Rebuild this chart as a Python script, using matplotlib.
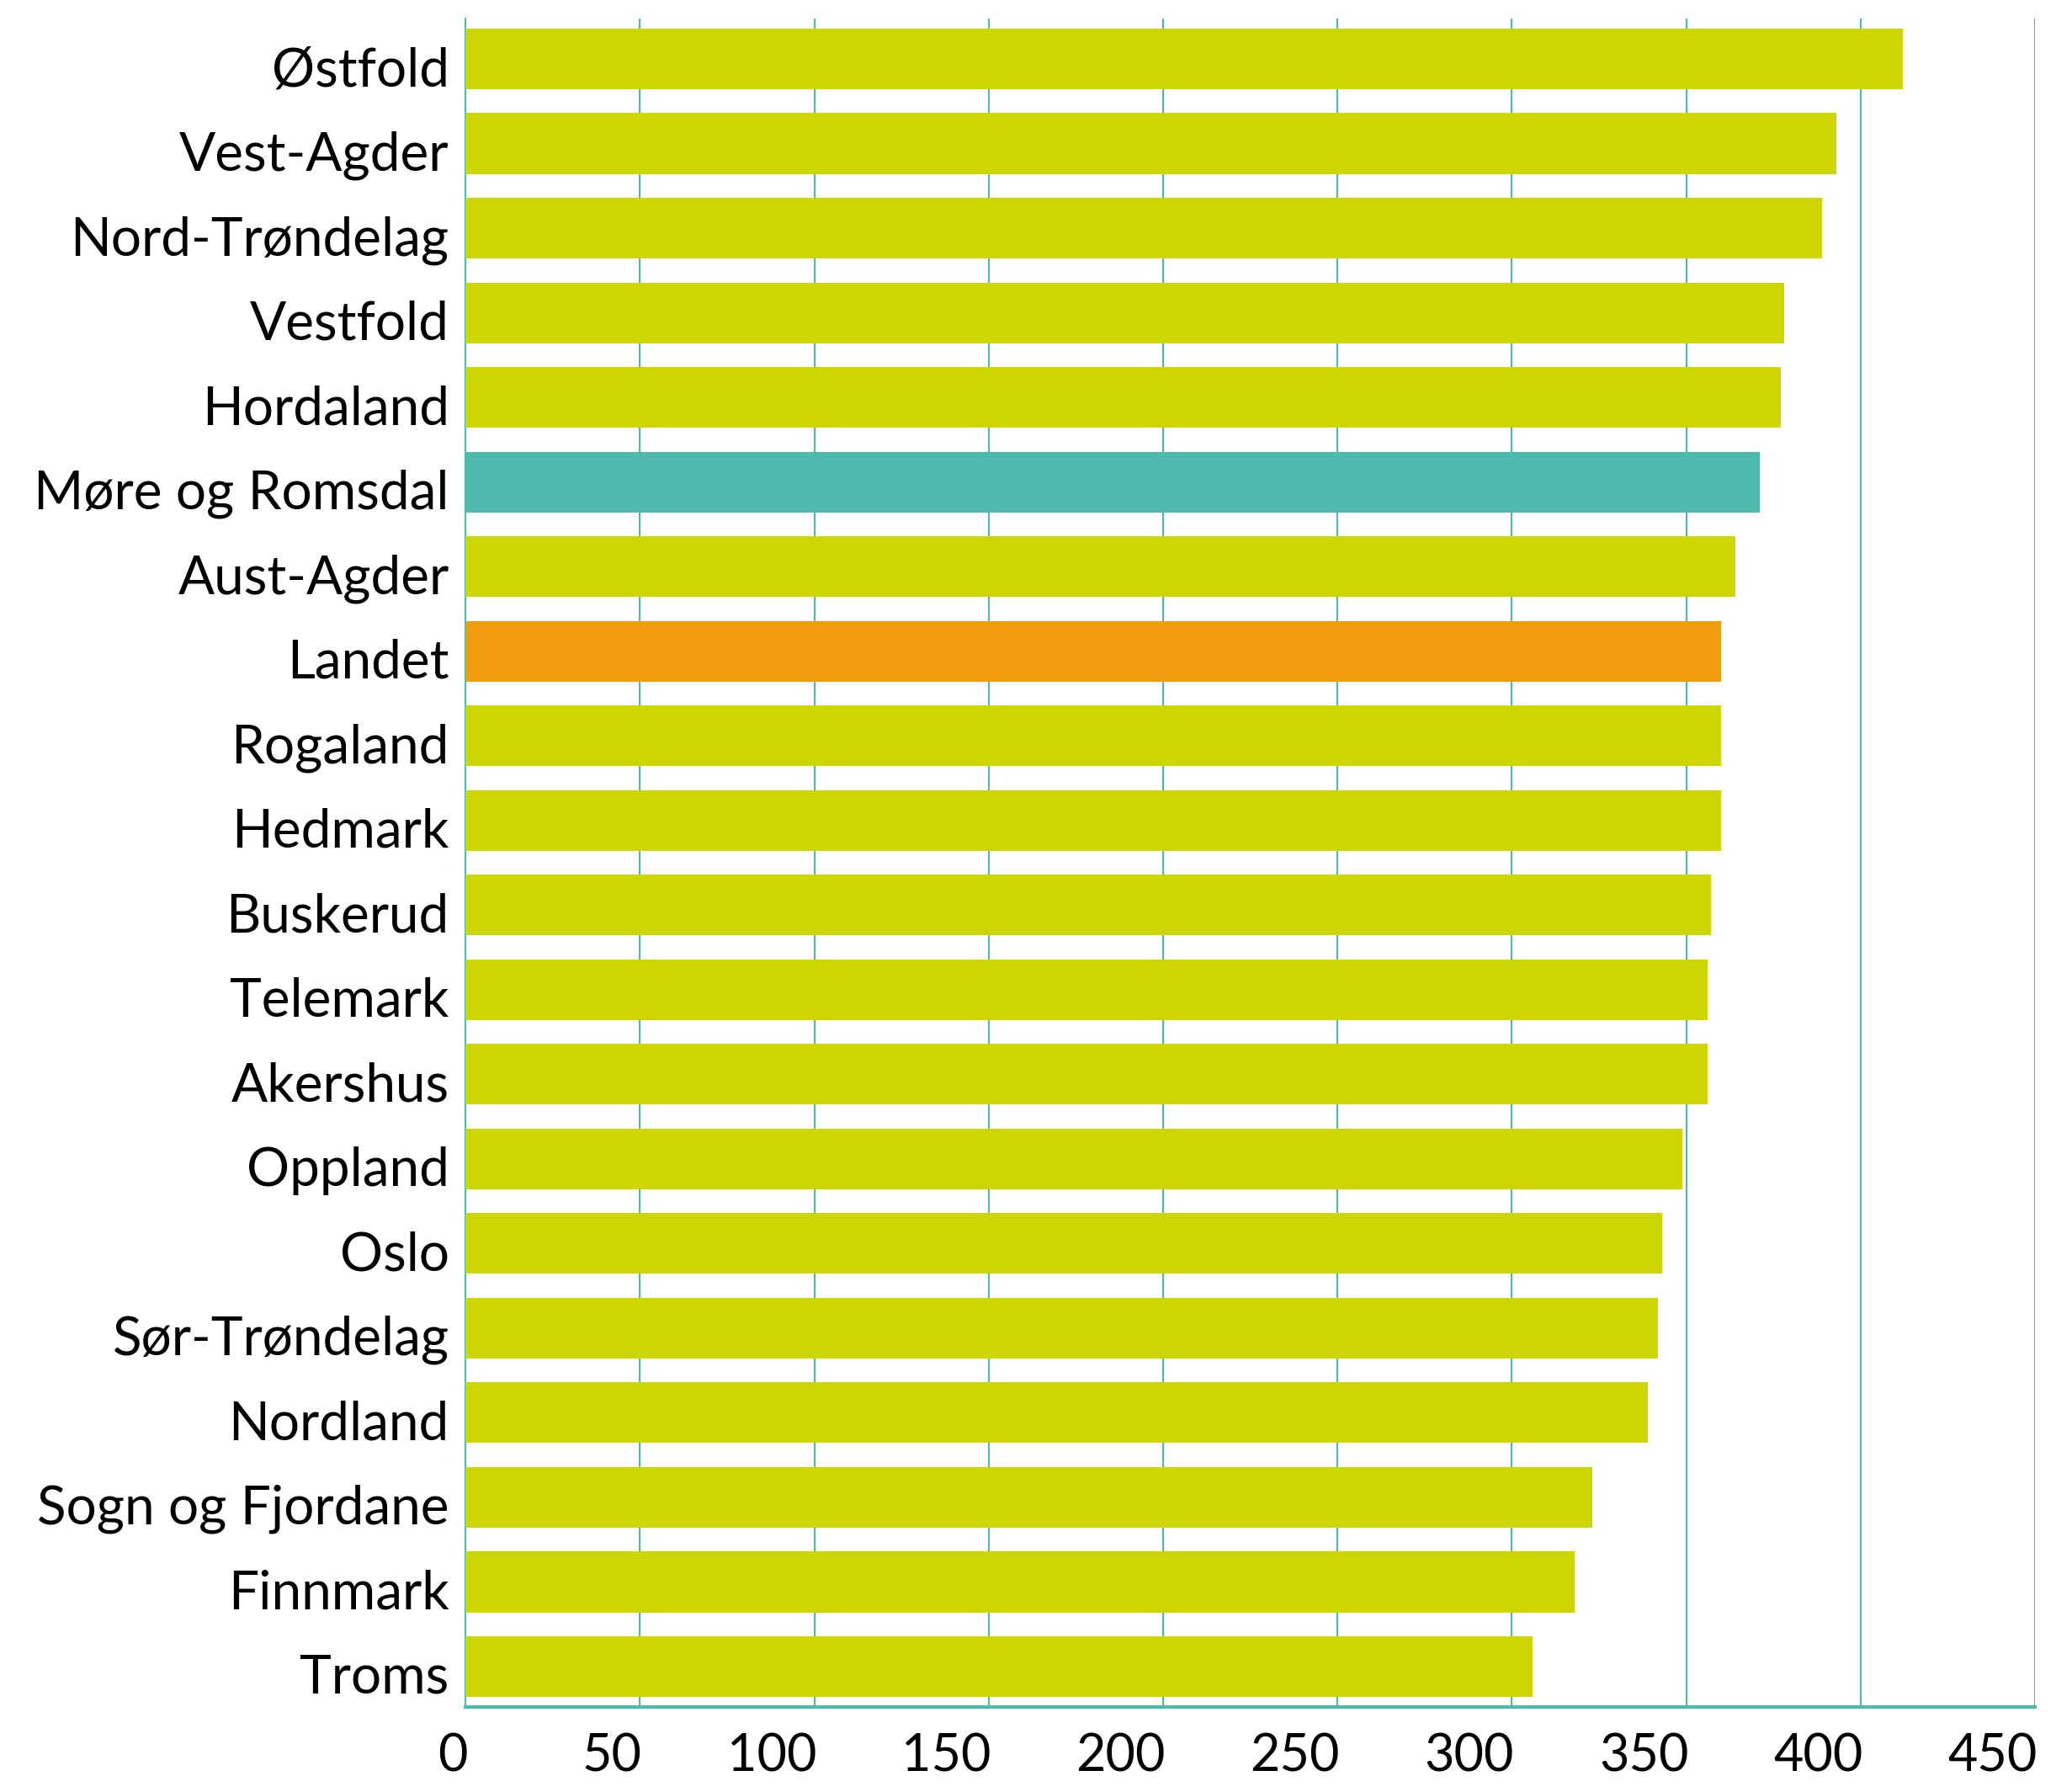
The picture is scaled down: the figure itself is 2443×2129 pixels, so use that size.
#!/usr/bin/env python3
import matplotlib
matplotlib.use("Agg")
import matplotlib.pyplot as plt
import matplotlib.transforms as mtransforms
import numpy as np

fylker = ["Østfold", "Vest-Agder", "Nord-Trøndelag", "Vestfold", "Hordaland",
          "Møre og Romsdal", "Aust-Agder", "Landet", "Rogaland", "Hedmark",
          "Buskerud", "Telemark", "Akershus", "Oppland", "Oslo",
          "Sør-Trøndelag", "Nordland", "Sogn og Fjordane", "Finnmark", "Troms"]
verdier = [412, 393, 389, 378, 377, 371, 364, 360, 360, 360,
           357, 356, 356, 349, 343, 342, 339, 323, 318, 306]
xticks = [0, 50, 100, 150, 200, 250, 300, 350, 400, 450]

gul = "#CDD600"
teal = "#4EBAAD"
oransje = "#F39C0F"
farger = []
for f in fylker:
    if f == "Landet":
        farger.append(oransje)
    elif f == "Møre og Romsdal":
        farger.append(teal)
    else:
        farger.append(gul)

plt.rcParams['font.family'] = ['Lato', 'DejaVu Sans']
myFontSize = 46

fig = plt.figure(figsize=(24.43, 21.29), dpi=100)
ax = fig.add_axes([0.2264, 0.0474, 0.9898 - 0.2264, 0.9897 - 0.0474])

y = np.arange(len(fylker))
ax.barh(y, verdier, height=0.72, color=farger, zorder=3)

ax.set_ylim(len(fylker) - 0.52, -0.48)
ax.set_xlim(0, 450)
ax.set_yticks(y)
ax.set_yticklabels(fylker, fontsize=myFontSize)
ax.set_xticks(xticks)
ax.set_xticklabels([str(t) for t in xticks], fontsize=44, ha='right')
ax.tick_params(axis='y', length=0, pad=14)
ax.tick_params(axis='x', length=0, pad=22)

# labels sit a little below the bar centre in the original
ned = mtransforms.ScaledTranslation(0, -6 / 72, fig.dpi_scale_trans)
for lab in ax.get_yticklabels():
    lab.set_transform(lab.get_transform() + ned)
hoyre = mtransforms.ScaledTranslation(2 / 72, 0, fig.dpi_scale_trans)
for lab in ax.get_xticklabels():
    lab.set_transform(lab.get_transform() + hoyre)

ax.grid(axis='x', color=teal, linewidth=1.5, zorder=1)
for s in ['top', 'right']:
    ax.spines[s].set_visible(False)
ax.spines['left'].set_color(teal)
ax.spines['left'].set_linewidth(1.5)
ax.spines['bottom'].set_color(teal)
ax.spines['bottom'].set_linewidth(3)

fig.savefig('out.png', dpi=100)
